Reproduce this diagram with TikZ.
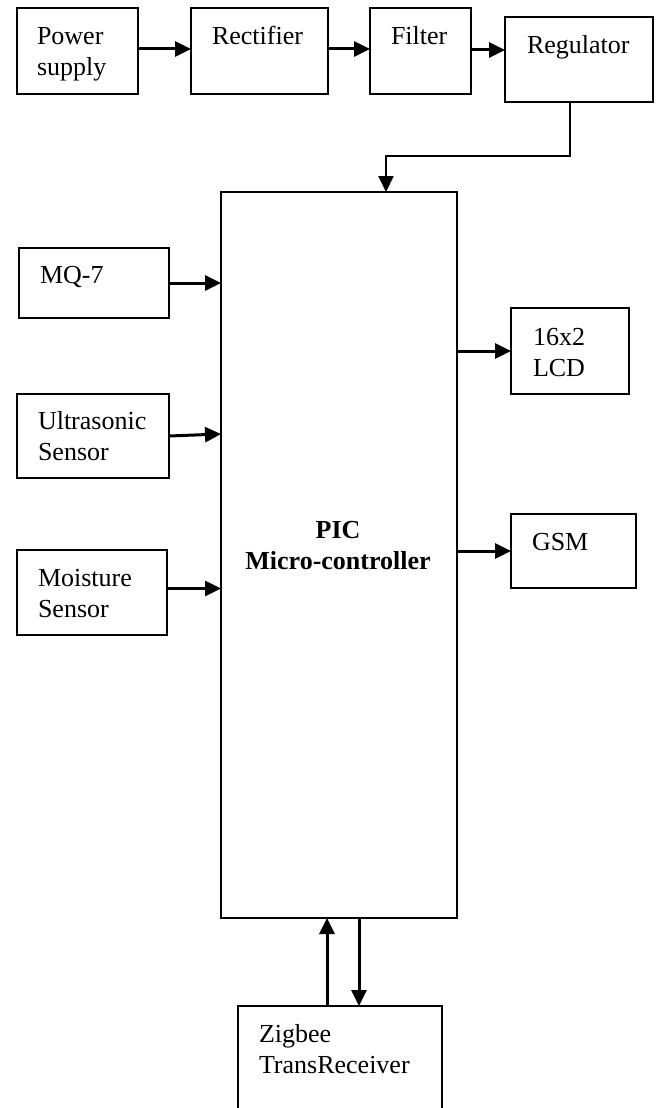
\documentclass[tikz,border=0pt]{standalone}
\usepackage{fontspec}
\setmainfont{Liberation Serif}
\usetikzlibrary{arrows.meta,calc}
\begin{document}
\begin{tikzpicture}[x=1pt,y=-1pt,
  blk/.style={draw=black,line width=2pt,rectangle,inner sep=0pt,outer sep=0pt},
  lbl/.style={inner sep=0pt,outer sep=0pt,anchor=base west,align=left,
    font=\fontsize{26pt}{30.5pt}\selectfont},
  tip/.style={-{Triangle[length=16pt,width=15pt]}},
  arr/.style={line width=3pt,tip}]
\useasboundingbox (0,0) rectangle (659,1108);
\clip (0,0) rectangle (659,1108);
% boxes
\node[blk,minimum width=121pt,minimum height=86pt] (ps) at (77.5,51) {};
\node[blk,minimum width=137pt,minimum height=86pt] (rect) at (259.5,51) {};
\node[blk,minimum width=101pt,minimum height=86pt] (filt) at (420.5,51) {};
\node[blk,minimum width=148pt,minimum height=85pt] (reg) at (579,59.5) {};
\node[blk,minimum width=236pt,minimum height=726pt] (pic) at (339,555) {};
\node[blk,minimum width=150pt,minimum height=70pt] (mq) at (94,283) {};
\node[blk,minimum width=152pt,minimum height=84pt] (us) at (93,436) {};
\node[blk,minimum width=150pt,minimum height=85pt] (mo) at (92,592.5) {};
\node[blk,minimum width=118pt,minimum height=86pt] (lcd) at (570,351) {};
\node[blk,minimum width=125pt,minimum height=74pt] (gsm) at (573.5,551) {};
\node[blk,minimum width=204pt,minimum height=112pt] (zig) at (340,1062) {};
% labels (base = baseline of the last line)
\node[lbl] (pst) at (37,75) {Power\\supply};
\node[lbl] (rectt) at (212,45) {Rectifier};
\node[lbl] (filtt) at (391,45) {Filter};
\node[lbl] (regt) at (527,53) {Regulator};
\node[lbl] (mqt) at (40,283) {MQ-7};
\node[lbl] (ust) at (38,460) {Ultrasonic\\Sensor};
\node[lbl] (mot) at (38,617) {Moisture\\Sensor};
\node[lbl] (lcdt) at (533,376) {16x2\\LCD};
\node[lbl] (gsmt) at (532,550) {GSM};
\node[lbl] (zigt) at (259,1073) {Zigbee\\TransReceiver};
\node[lbl,anchor=base,align=center,font=\fontsize{26pt}{31pt}\selectfont\bfseries] (pict) at (338,569) {PIC\\Micro-controller};
% connectors
\draw[arr] ([yshift=2pt]ps.east) -- ([yshift=2pt]ps.east -| rect.west);
\draw[arr] ([yshift=2pt]rect.east) -- ([yshift=2pt]rect.east -| filt.west);
\draw[arr] ([yshift=1pt]filt.east) -- ([yshift=1pt]filt.east -| reg.west);
\coordinate (bend) at (386,156);
\draw[line width=2pt,tip] ([xshift=-9pt]reg.south) |- (bend) -- (bend |- pic.north);
\draw[arr] (mq.east) -- (mq.east -| pic.west);
\draw[arr] (us.east) -- ([yshift=2pt]us.east -| pic.west);
\draw[arr] ([yshift=4pt]mo.east) -- ([yshift=4pt]mo.east -| pic.west);
\draw[arr] (pic.east |- lcd.west) -- (lcd.west);
\draw[arr] (pic.east |- gsm.west) -- (gsm.west);
\coordinate (zu) at (327,0);
\coordinate (zd) at (359,0);
\draw[arr] (zu |- zig.north) -- (zu |- pic.south);
\draw[arr] (zd |- pic.south) -- (zd |- zig.north);
\end{tikzpicture}
\end{document}
